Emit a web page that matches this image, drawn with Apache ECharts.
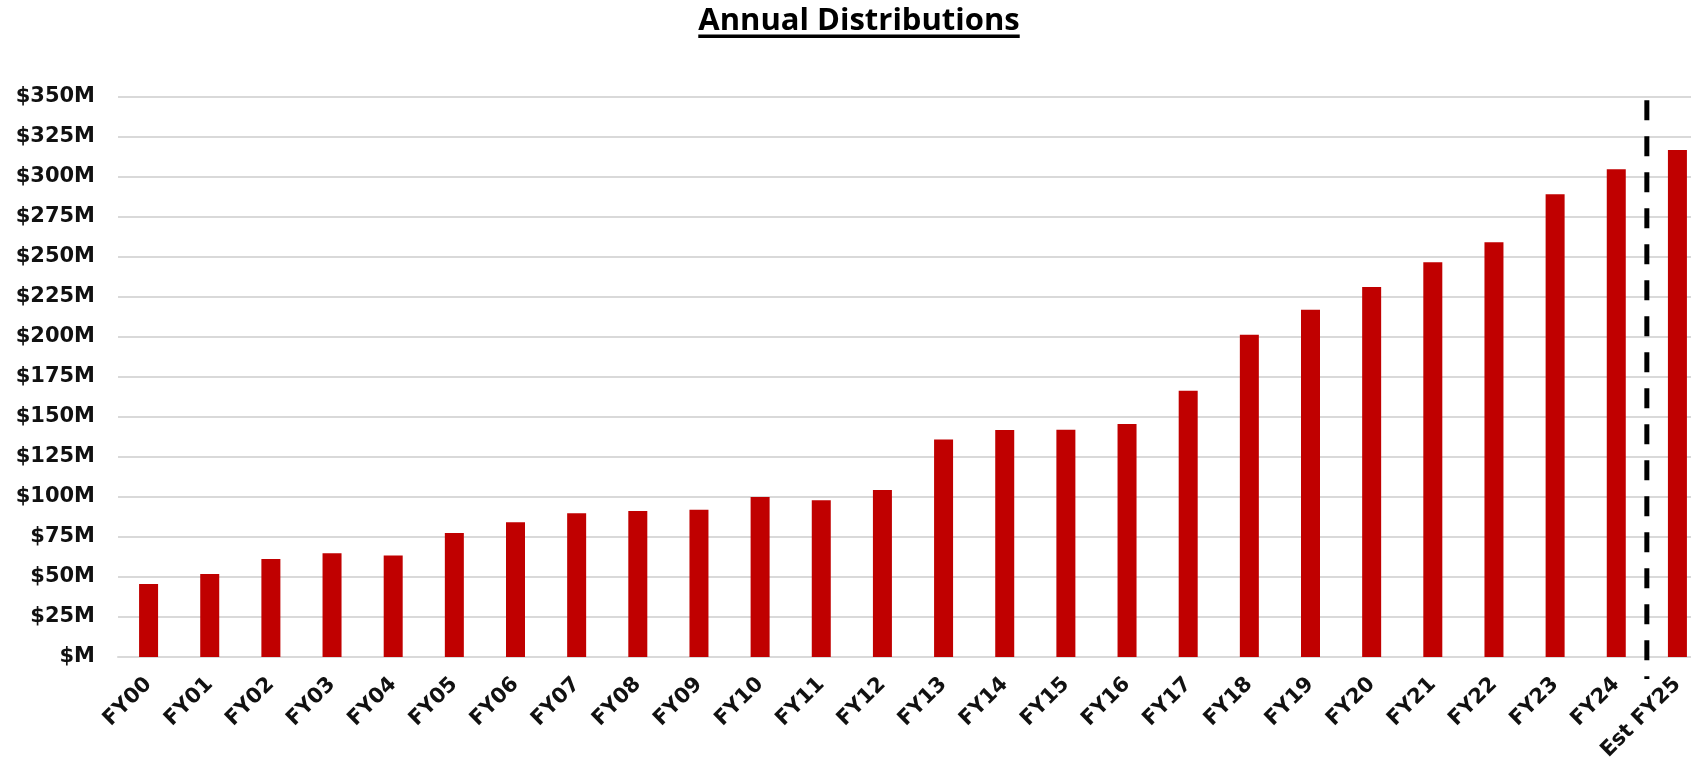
<!DOCTYPE html>
<html>
<head>
<meta charset="utf-8">
<title>Annual Distributions</title>
<script src="https://cdn.jsdelivr.net/npm/echarts@6/dist/echarts.min.js"></script>
<style>
  html, body { margin: 0; padding: 0; background: #ffffff; }
  #chart { width: 1691px; height: 757px; }
</style>
</head>
<body>
<div id="chart"></div>
<script>
// Fiscal years shown on the category axis
const categories = ['FY00','FY01','FY02','FY03','FY04','FY05','FY06','FY07','FY08','FY09',
  'FY10','FY11','FY12','FY13','FY14','FY15','FY16','FY17','FY18','FY19',
  'FY20','FY21','FY22','FY23','FY24','Est FY25'];

// Annual distributions, in $M
const distributions = [45.6, 51.9, 61.3, 64.8, 63.5, 77.5, 84.2, 89.8, 91.3, 92.1,
  100.0, 97.9, 104.4, 136.0, 141.9, 142.0, 145.6, 166.4, 201.4, 217.1,
  231.3, 246.7, 259.2, 289.2, 304.8, 316.9];

// Value axis ticks ($M)
const yTicks = [0, 25, 50, 75, 100, 125, 150, 175, 200, 225, 250, 275, 300, 325, 350];

// Divider between actuals and the estimate: category boundary index, and its vertical extent in $M
const dividerIndex = 25;
const dividerSpan = [348, -13.75];

const titleText = 'Annual Distributions';
const titleFont = 'bold 31px "Open Sans"';

const chart = echarts.init(document.getElementById('chart'), null, { renderer: 'canvas' });

// width of the title, for its underline
const measureCtx = document.createElement('canvas').getContext('2d');
measureCtx.font = titleFont;
const titleWidth = measureCtx.measureText(titleText).width;
const titleCenterX = 859;

const labelFont = {
  fontFamily: '"DejaVu Sans", sans-serif',
  fontWeight: 'bold',
  fontSize: 21,
  color: '#111111'
};

chart.setOption({
  animation: false,
  backgroundColor: '#ffffff',
  grid: {
    left: 118, right: -17, top: 97, bottom: 100,
    containLabel: false,
    outerBoundsMode: 'none'
  },
  graphic: [{
    type: 'group',
    left: titleCenterX - titleWidth / 2,
    top: 6,
    children: [
      { type: 'text', x: 0, y: 0, style: { text: titleText, font: titleFont, fill: '#000000' } },
      { type: 'rect', shape: { x: 0, y: 28.5, width: titleWidth, height: 3.5 }, style: { fill: '#000000' } }
    ]
  }],
  xAxis: [{
    type: 'category',
    data: categories,
    axisTick: { show: false },
    axisLine: { show: true, lineStyle: { color: '#d9d9d9', width: 2 } },
    axisLabel: Object.assign({ rotate: 45, margin: 24, interval: 0 }, labelFont)
  }, {
    type: 'value',
    min: 0,
    max: categories.length,
    show: false
  }],
  yAxis: {
    type: 'value',
    min: yTicks[0],
    max: yTicks[yTicks.length - 1],
    interval: yTicks[1] - yTicks[0],
    axisLine: { show: false },
    axisTick: { show: false },
    splitLine: { show: true, lineStyle: { color: '#d9d9d9', width: 2 } },
    axisLabel: Object.assign({
      margin: 23,
      formatter: v => (v === 0 ? '$M' : '$' + v + 'M')
    }, labelFont)
  },
  series: [{
    type: 'bar',
    data: distributions,
    barWidth: 19,
    itemStyle: { color: '#c00000' }
  }, {
    type: 'line',
    xAxisIndex: 1,
    data: [[dividerIndex, dividerSpan[0]], [dividerIndex, dividerSpan[1]]],
    symbol: 'none',
    clip: false,
    silent: true,
    z: 5,
    lineStyle: { color: '#000000', width: 5, type: [20, 16] }
  }]
});
</script>
</body>
</html>
